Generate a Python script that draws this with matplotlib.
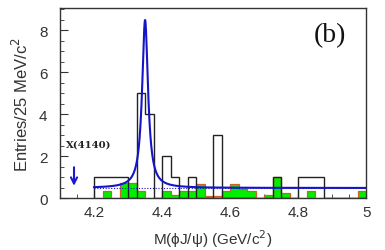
import numpy as np
import matplotlib
matplotlib.use("Agg")
import matplotlib.pyplot as plt
from matplotlib.ticker import MultipleLocator

# bin edges (25 MeV bins from 4.2 to 5.0 GeV)
bin_start = 4.2
bin_width = 0.025
n_bins = 32

# data histogram (open, black)
data_counts = [1, 1, 1, 1, 0, 5, 4, 0,
               2, 1, 0, 1, 0, 0, 3, 0,
               0, 0, 0, 0, 0, 1, 0, 0,
               1, 1, 1, 0, 0, 0, 0, 0]
# sideband histogram (green)
sb_counts = [0, 0.35, 0, 0.7, 0.7, 0.35, 0, 0,
             0.35, 0.15, 0.35, 0.35, 0.65, 0.12, 0.1, 0.35,
             0.65, 0.45, 0.35, 0, 0.15, 1.0, 0.25, 0,
             0, 0.35, 0, 0, 0, 0, 0, 0.35]

# fit parameters (Breit-Wigner + flat background)
peak_mass = 4.350
peak_width = 0.021
peak_height = 8.0
bkg_level = 0.48

xticks = [4.2, 4.4, 4.6, 4.8, 5.0]
xticklabels = ["4.2", "4.4", "4.6", "4.8", "5"]
yticks = [0, 2, 4, 6, 8]

edges = bin_start + bin_width * np.arange(n_bins + 1)

fig = plt.figure(figsize=(3.85, 2.51), dpi=100)
ax = fig.add_axes([0.156, 0.207, 0.795, 0.757])

ax.stairs(sb_counts, edges, fill=True, color="#00ee00", zorder=2)
ax.stairs(sb_counts, edges, color="#d0602a", lw=0.9, zorder=3)
ax.stairs(data_counts, edges, color="#222222", lw=1.0, zorder=4)

xf = np.linspace(4.2, 5.0, 1200)
yf = bkg_level + peak_height / (1 + (2 * (xf - peak_mass) / peak_width) ** 2)
ax.plot(xf, yf, color="#1515c8", lw=1.5, zorder=5)
ax.plot([4.2, 5.0], [bkg_level - 0.02] * 2, color="#1515c8", lw=0.8, ls=(0, (1, 1.5)), zorder=5)

ax.annotate("", xy=(4.141, 0.45), xytext=(4.141, 1.6),
            arrowprops=dict(arrowstyle="->", color="#1a1ad0", lw=1.5, mutation_scale=11))
ax.text(4.117, 2.55, "X(4140)", fontsize=7.2, fontweight="bold", family="DejaVu Serif",
        ha="left", va="center", color="#222222")
ax.text(4.895, 7.8, "(b)", fontsize=20, family="Liberation Serif",
        ha="center", va="center", color="#111111")

ax.set_xlim(4.1, 5.0)
ax.set_ylim(0, 9.05)
ax.set_xticks(xticks)
ax.set_xticklabels(xticklabels)
ax.set_yticks(yticks)
ax.xaxis.set_minor_locator(MultipleLocator(0.05))
ax.yaxis.set_minor_locator(MultipleLocator(0.5))
ax.tick_params(which="both", direction="in", top=False, right=False, colors="#333333",
               labelsize=11, labelcolor="#333333")
ax.tick_params(which="major", length=6, width=0.8)
ax.tick_params(which="minor", length=3, width=0.6)
ax.tick_params(axis="y", which="major", pad=9)
ax.tick_params(axis="x", which="major", pad=5)
for lab in ax.get_xticklabels() + ax.get_yticklabels():
    lab.set_family("Liberation Sans")
for s in ax.spines.values():
    s.set_color("#333333")
    s.set_linewidth(1.0)

ax.set_xlabel("M(\u03d5J/\u03c8) (GeV/c$^2$)", fontsize=11, family="Liberation Sans",
              color="#333333", labelpad=6)
ax.set_ylabel("Entries/25 MeV/c$^2$", fontsize=12, family="Liberation Sans",
              color="#333333", labelpad=6)

fig.savefig("out.png", dpi=100)
